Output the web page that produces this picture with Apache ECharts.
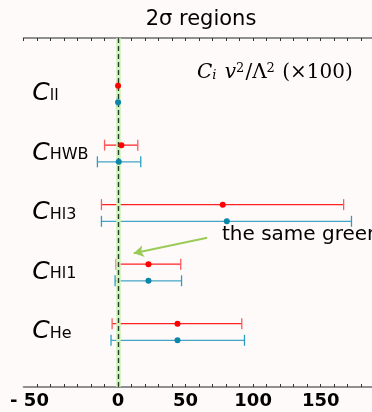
<!DOCTYPE html>
<html>
<head>
<meta charset="utf-8">
<script src="https://cdn.jsdelivr.net/npm/echarts@6/dist/echarts.min.js"></script>
<style>
html,body{margin:0;padding:0;background:#fffafa;}
#c{width:372px;height:412px;}
</style>
</head>
<body>
<div id="c"></div>
<script>
// ---- data ----
const categories = ['ll', 'HWB', 'Hl3', 'Hl1', 'He'];
const redCenter = [0, 2.5, 77.5, 22.5, 44];
const redLow    = [-0.8, -10, -12.3, -1.5, -4.4];
const redHigh   = [0.8, 14.6, 167, 46.4, 91.6];
const blueCenter = [0, 0.5, 80.5, 22.5, 44];
const blueLow    = [-0.8, -15.3, -12.3, -2.2, -5.2];
const blueHigh   = [0.8, 16.8, 172.8, 47, 93.6];
const xTicks = [-50, 0, 50, 100, 150];

const RED_LINE = '#ff2222', RED_CAP = '#ff5a5a', RED_DOT = '#ff0000';
const BLUE_LINE = '#43a4c5', BLUE_CAP = '#2b9fc2', BLUE_DOT = '#0a86a8';
const OFF = 0.14;

function errData(low, high, sign) {
  return categories.map((c, i) => [low[i], high[i], i + 1 + sign * OFF]);
}
function dotData(center, sign) {
  return categories.map((c, i) => [center[i], i + 1 + sign * OFF]);
}
function errRender(lineColor, capColor) {
  return function (params, api) {
    const lo = api.coord([api.value(0), api.value(2)]);
    const hi = api.coord([api.value(1), api.value(2)]);
    const h = 5.5;
    return {
      type: 'group',
      children: [
        { type: 'line', shape: { x1: lo[0], y1: lo[1], x2: hi[0], y2: hi[1] },
          style: { stroke: lineColor, lineWidth: 1.3 } },
        { type: 'line', shape: { x1: lo[0], y1: lo[1] - h, x2: lo[0], y2: lo[1] + h },
          style: { stroke: capColor, lineWidth: 1.3 } },
        { type: 'line', shape: { x1: hi[0], y1: hi[1] - h, x2: hi[0], y2: hi[1] + h },
          style: { stroke: capColor, lineWidth: 1.3 } }
      ]
    };
  };
}

const chart = echarts.init(document.getElementById('c'));
const axisGray = '#6e6e6e';
chart.setOption({
  backgroundColor: '#fffafa',
  animation: false,
  title: {
    text: '2σ regions',
    left: 196, top: 4, textAlign: 'center',
    textStyle: { fontFamily: 'DejaVu Sans', fontSize: 21, fontWeight: 'normal', color: '#000' }
  },
  grid: { left: 23.5, right: 0, top: 38, bottom: 25 },
  xAxis: [{
    type: 'value', min: -70, max: 188, interval: 10, position: 'bottom',
    axisLine: { show: true, lineStyle: { color: axisGray, width: 1.6 } },
    axisTick: { show: true, inside: true, length: 3, lineStyle: { color: '#333' } },
    splitLine: { show: false },
    axisLabel: {
      margin: 5,
      showMaxLabel: false, showMinLabel: false,
      fontFamily: 'DejaVu Sans', fontWeight: 'bold', fontSize: 18, color: '#000',
      formatter: function (v) {
        if (xTicks.indexOf(v) < 0) return '';
        if (v < 0) return '{m|- ' + Math.abs(v) + '}';
        return String(v);
      },
      rich: { m: { fontFamily: 'DejaVu Sans', fontWeight: 'bold', fontSize: 18, color: '#000', padding: [0, 42, 0, 0] } }
    }
  }, {
    type: 'value', min: -70, max: 188, interval: 10, position: 'top',
    axisLine: { show: true, lineStyle: { color: axisGray, width: 1.6 } },
    axisTick: { show: true, inside: true, length: 3, lineStyle: { color: '#333' } },
    splitLine: { show: false },
    axisLabel: { show: false }
  }],
  yAxis: {
    type: 'value', inverse: true, min: 0.059, max: 5.925,
    axisLine: { show: true, lineStyle: { color: axisGray, width: 1.6 } },
    axisTick: { show: false }, axisLabel: { show: false }, splitLine: { show: false }
  },
  series: [
    {
      type: 'line', data: [], silent: true, z: 1,
      markLine: {
        silent: true, symbol: ['none', 'none'], label: { show: false },
        data: [
          { xAxis: 0, lineStyle: { color: '#cdf5b8', width: 4.5, type: 'solid' } },
          { xAxis: 0, lineStyle: { color: '#2a3d2c', width: 1.4, type: [5, 3] } }
        ]
      }
    },
    { type: 'custom', renderItem: errRender(RED_LINE, RED_CAP), data: errData(redLow, redHigh, -1),
      encode: { x: [0, 1], y: 2 }, z: 3 },
    { type: 'custom', renderItem: errRender(BLUE_LINE, BLUE_CAP), data: errData(blueLow, blueHigh, 1),
      encode: { x: [0, 1], y: 2 }, z: 3 },
    { type: 'scatter', data: dotData(redCenter, -1), symbolSize: 6, itemStyle: { color: RED_DOT, opacity: 1 }, z: 10 },
    { type: 'scatter', data: dotData(blueCenter, 1), symbolSize: 6, itemStyle: { color: BLUE_DOT, opacity: 1 }, z: 10 },
    {
      type: 'scatter', symbolSize: 0, z: 5, itemStyle: { opacity: 1 },
      data: categories.map((c, i) => ({ value: [-63.5, i + 1], name: c })),
      label: {
        show: true, position: 'right', distance: 0, color: '#000', textBorderWidth: 0,
        formatter: p => '{c|C}{s|' + p.name + '}',
        rich: {
          c: { fontFamily: 'DejaVu Sans', fontStyle: 'italic', fontSize: 25, color: '#000' },
          s: { fontFamily: 'DejaVu Sans', fontSize: 16, color: '#000', padding: [0, 0, -3, 0] }
        }
      }
    },
    {
      type: 'line', data: [], silent: true,
      markLine: {
        silent: true, symbol: ['none', 'arrow'], symbolSize: [9, 10], label: { show: false },
        lineStyle: { color: '#9acb58', width: 2, type: 'solid' },
        data: [[{ coord: [66, 3.415] }, { coord: [11.6, 3.677] }]]
      }
    }
  ],
  graphic: [
    {
      type: 'text', left: 222, top: 225,
      style: { text: 'the same green', font: '20px "DejaVu Sans"', fill: '#000' }
    },
    {
      type: 'text', left: 197, top: 62,
      style: {
        text: '{i|C}{sb|i}{i| v}{sp|2}{n|/Λ}{sp|2}{n| (×100)}',
        rich: {
          i: { fontFamily: 'DejaVu Serif', fontStyle: 'italic', fontSize: 20, fill: '#000' },
          n: { fontFamily: 'DejaVu Serif', fontSize: 20, fill: '#000' },
          sb: { fontFamily: 'DejaVu Serif', fontStyle: 'italic', fontSize: 13, fill: '#000', padding: [0, 2, -5, 0] },
          sp: { fontFamily: 'DejaVu Serif', fontSize: 13, fill: '#000', padding: [0, 1, 9, 0] }
        }
      }
    }
  ]
});
</script>
</body>
</html>
